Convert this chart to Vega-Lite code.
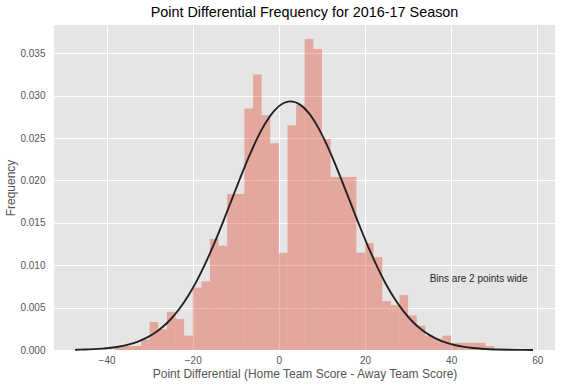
{
  "$schema": "https://vega.github.io/schema/vega-lite/v6.json",
  "width": 501,
  "height": 325,
  "autosize": {"type": "none"},
  "padding": {"left": 54, "top": 25, "right": 7, "bottom": 37},
  "background": "white",
  "title": {
    "text": "Point Differential Frequency for 2016-17 Season",
    "font": "Liberation Sans",
    "fontSize": 14.4,
    "fontWeight": "normal",
    "color": "#000000",
    "anchor": "middle",
    "baseline": "alphabetic",
    "offset": -6
  },
  "config": {
    "view": {"fill": "#E5E5E5", "stroke": null},
    "axis": {
      "grid": true,
      "gridColor": "#FFFFFF",
      "gridWidth": 1,
      "domain": false,
      "ticks": false,
      "tickSize": 0,
      "labelFont": "Liberation Sans",
      "labelFontSize": 10,
      "labelColor": "#555555",
      "titleFont": "Liberation Sans",
      "titleFontSize": 12,
      "titleFontWeight": "normal",
      "titleColor": "#555555"
    }
  },
  "datasets": {
    "bins": [
      {"x0": -38, "x1": -36, "density": 0.00047},
      {"x0": -36, "x1": -34, "density": 0.00047},
      {"x0": -34, "x1": -32, "density": 0.00047},
      {"x0": -32, "x1": -30, "density": 0.0012},
      {"x0": -30, "x1": -28, "density": 0.0033},
      {"x0": -28, "x1": -26, "density": 0.00247},
      {"x0": -26, "x1": -24, "density": 0.00448},
      {"x0": -24, "x1": -22, "density": 0.00365},
      {"x0": -22, "x1": -20, "density": 0.0017},
      {"x0": -20, "x1": -18, "density": 0.00735},
      {"x0": -18, "x1": -16, "density": 0.0081},
      {"x0": -16, "x1": -14, "density": 0.0131},
      {"x0": -14, "x1": -12, "density": 0.0123},
      {"x0": -12, "x1": -10, "density": 0.0184},
      {"x0": -10, "x1": -8, "density": 0.0184},
      {"x0": -8, "x1": -6, "density": 0.0285},
      {"x0": -6, "x1": -4, "density": 0.0325},
      {"x0": -4, "x1": -2, "density": 0.0277},
      {"x0": -2, "x1": 0, "density": 0.0244},
      {"x0": 0, "x1": 2, "density": 0.01148},
      {"x0": 2, "x1": 4, "density": 0.0265},
      {"x0": 4, "x1": 6, "density": 0.0289},
      {"x0": 6, "x1": 8, "density": 0.0367},
      {"x0": 8, "x1": 10, "density": 0.0355},
      {"x0": 10, "x1": 12, "density": 0.0249},
      {"x0": 12, "x1": 14, "density": 0.0204},
      {"x0": 14, "x1": 16, "density": 0.0204},
      {"x0": 16, "x1": 18, "density": 0.0204},
      {"x0": 18, "x1": 20, "density": 0.01148},
      {"x0": 20, "x1": 22, "density": 0.01262},
      {"x0": 22, "x1": 24, "density": 0.01097},
      {"x0": 24, "x1": 26, "density": 0.00578},
      {"x0": 26, "x1": 28, "density": 0.0053},
      {"x0": 28, "x1": 30, "density": 0.00648},
      {"x0": 30, "x1": 32, "density": 0.0041},
      {"x0": 32, "x1": 34, "density": 0.00287},
      {"x0": 34, "x1": 36, "density": 0.0017},
      {"x0": 36, "x1": 38, "density": 0.00135},
      {"x0": 38, "x1": 40, "density": 0.0017},
      {"x0": 40, "x1": 42, "density": 0.00085},
      {"x0": 42, "x1": 44, "density": 0.00085},
      {"x0": 44, "x1": 46, "density": 0.00085},
      {"x0": 46, "x1": 48, "density": 0.00085},
      {"x0": 48, "x1": 50, "density": 0.00047}
    ],
    "fit": [
      {"x": -47.3, "pdf": 0.0000341},
      {"x": -45, "pdf": 0.0000626},
      {"x": -43, "pdf": 0.0001037},
      {"x": -41, "pdf": 0.0001682},
      {"x": -39, "pdf": 0.0002666},
      {"x": -37, "pdf": 0.000414},
      {"x": -35, "pdf": 0.00063},
      {"x": -33, "pdf": 0.000936},
      {"x": -31, "pdf": 0.001362},
      {"x": -29, "pdf": 0.001939},
      {"x": -27, "pdf": 0.002703},
      {"x": -25, "pdf": 0.003686},
      {"x": -23, "pdf": 0.00492},
      {"x": -21, "pdf": 0.006426},
      {"x": -19, "pdf": 0.008214},
      {"x": -17, "pdf": 0.010274},
      {"x": -15, "pdf": 0.012577},
      {"x": -13, "pdf": 0.015066},
      {"x": -11, "pdf": 0.017662},
      {"x": -9, "pdf": 0.02026},
      {"x": -7, "pdf": 0.022745},
      {"x": -5, "pdf": 0.02499},
      {"x": -3, "pdf": 0.026868},
      {"x": -1, "pdf": 0.028268},
      {"x": 1, "pdf": 0.029106},
      {"x": 2.7, "pdf": 0.029334},
      {"x": 5, "pdf": 0.028917},
      {"x": 7, "pdf": 0.027904},
      {"x": 9, "pdf": 0.02635},
      {"x": 11, "pdf": 0.02435},
      {"x": 13, "pdf": 0.022021},
      {"x": 15, "pdf": 0.019488},
      {"x": 17, "pdf": 0.016877},
      {"x": 19, "pdf": 0.014304},
      {"x": 21, "pdf": 0.011864},
      {"x": 23, "pdf": 0.009629},
      {"x": 25, "pdf": 0.007648},
      {"x": 27, "pdf": 0.005945},
      {"x": 29, "pdf": 0.004522},
      {"x": 31, "pdf": 0.003366},
      {"x": 33, "pdf": 0.002452},
      {"x": 35, "pdf": 0.001748},
      {"x": 37, "pdf": 0.001219},
      {"x": 39, "pdf": 0.000832},
      {"x": 41, "pdf": 0.000556},
      {"x": 43, "pdf": 0.000364},
      {"x": 45, "pdf": 0.000233},
      {"x": 47, "pdf": 0.000146},
      {"x": 49, "pdf": 0.0000893},
      {"x": 51, "pdf": 0.0000535},
      {"x": 53, "pdf": 0.0000314},
      {"x": 55, "pdf": 0.000018},
      {"x": 57, "pdf": 0.0000101},
      {"x": 59, "pdf": 0.0000056}
    ],
    "note": [
      {"x": 35, "y": 0.008, "label": "Bins are 2 points wide"}
    ]
  },
  "layer": [
    {
      "data": {"name": "bins"},
      "mark": {"type": "rect", "fill": "#E24A33", "fillOpacity": 0.4, "strokeWidth": 0},
      "encoding": {
        "x": {
          "field": "x0",
          "type": "quantitative",
          "scale": {"domain": [-52.2, 64.1], "nice": false, "zero": false},
          "axis": {
            "values": [-40, -20, 0, 20, 40, 60],
            "format": "d",
            "labelPadding": 5,
            "title": "Point Differential (Home Team Score - Away Team Score)",
            "titlePadding": 3
          }
        },
        "x2": {"field": "x1"},
        "y": {
          "field": "density",
          "type": "quantitative",
          "scale": {"domain": [0, 0.03834], "nice": false},
          "axis": {
            "values": [0, 0.005, 0.01, 0.015, 0.02, 0.025, 0.03, 0.035],
            "format": ".3f",
            "labelPadding": 9,
            "title": "Frequency",
            "titlePadding": 2
          }
        },
        "y2": {"datum": 0}
      }
    },
    {
      "data": {"name": "fit"},
      "mark": {"type": "line", "color": "#222222", "strokeWidth": 1.9, "interpolate": "monotone"},
      "encoding": {
        "x": {"field": "x", "type": "quantitative"},
        "y": {"field": "pdf", "type": "quantitative"}
      }
    },
    {
      "data": {"name": "note"},
      "mark": {"type": "text", "align": "left", "baseline": "alphabetic", "font": "Liberation Sans", "fontSize": 10, "color": "#262626"},
      "encoding": {
        "x": {"field": "x", "type": "quantitative"},
        "y": {"field": "y", "type": "quantitative"},
        "text": {"field": "label"}
      }
    }
  ]
}
